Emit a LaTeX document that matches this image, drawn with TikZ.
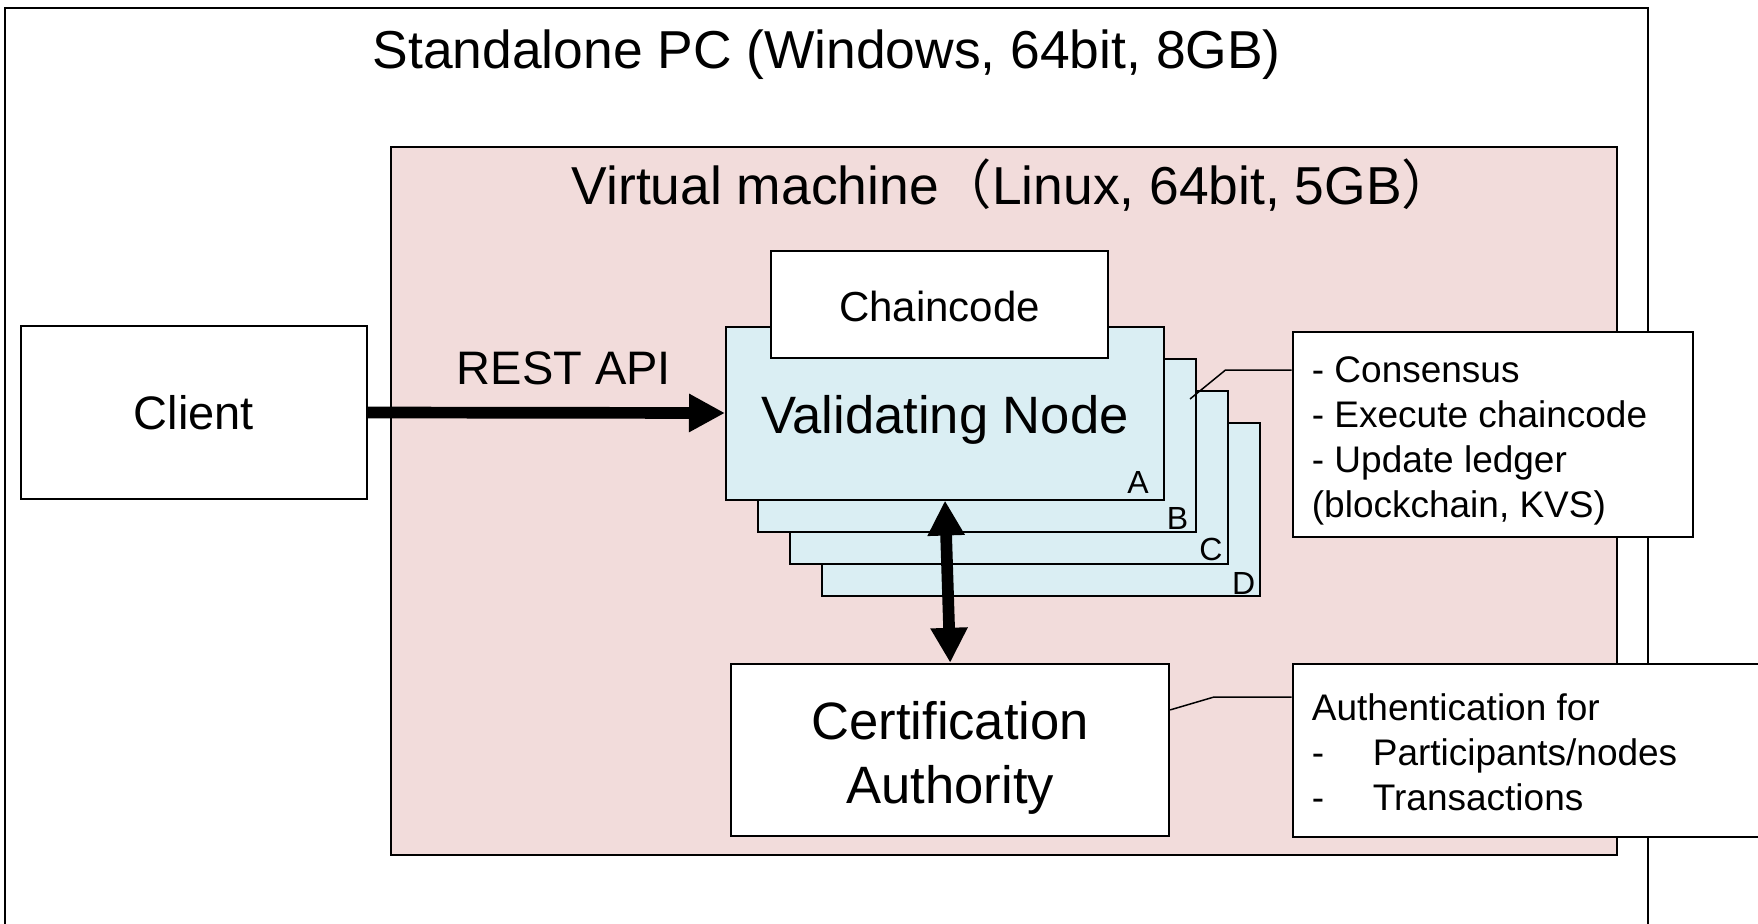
\documentclass[tikz,border=0pt]{standalone}
\usepackage{fontspec}
\setmainfont{Liberation Sans}
\newfontfamily\cjkfont{Noto Sans CJK JP}
\usetikzlibrary{arrows.meta,calc}
\definecolor{vmpink}{RGB}{242,220,219}
\definecolor{vnblue}{RGB}{218,238,243}
\tikzset{
  box/.style={draw=black, line width=1pt, fill=white, inner sep=0pt},
  vnode/.style={box, fill=vnblue, minimum width=219pt, minimum height=86.5pt},
  titletext/.style={font=\fontsize{26.7pt}{32pt}\selectfont, inner sep=0pt},
  bigtext/.style={font=\fontsize{26.3pt}{32pt}\selectfont, inner sep=0pt},
  midtext/.style={font=\fontsize{23.5pt}{28pt}\selectfont},
  chaintext/.style={font=\fontsize{21pt}{25pt}\selectfont, inner sep=0pt},
  notetext/.style={font=\fontsize{18.5pt}{22.5pt}\selectfont, inner sep=0pt, align=left, anchor=west},
  lettertext/.style={font=\fontsize{16pt}{19pt}\selectfont, inner sep=0pt, anchor=south east},
  bigarrow/.style={line width=5.85pt, -{Triangle[length=18pt,width=18pt]}},
  bigdarrow/.style={line width=5.85pt, {Triangle[length=17.5pt,width=17.5pt]}-{Triangle[length=17.5pt,width=17.5pt]}},
  leader/.style={line width=0.75pt}
}
\begin{document}
\begin{tikzpicture}[x=0.5pt,y=-0.5pt]
\clip (0,0) rectangle (1758,923);
\fill[white] (0,0) rectangle (1758,923);
% outer PC
\node[box, minimum width=821.5pt, minimum height=471pt] (pc) at (826.5,479) {};
\node[titletext] (pctitle) at (826.7,55) {Standalone PC (Windows, 64bit, 8GB)};
% virtual machine
\node[box, fill=vmpink, minimum width=613pt, minimum height=354pt] (vm) at (1004,501) {};
\node[titletext] (vmtitle) at (1013.5,185) {Virtual machine{\cjkfont （}Linux, 64bit, 5GB{\cjkfont ）}};
% client
\node[box, minimum width=173pt, minimum height=86.5pt, midtext] (client) at (194,412.5) {Client};
\node[midtext, inner sep=0pt] (rest) at (564,368) {REST API};
% validating nodes
\node[vnode] (D) at (1041,509) {};
\node[lettertext] (labD) at ($(D.south east)+(-5.5,-2)$) {D};
\node[vnode] (C) at (1009,477) {};
\node[lettertext] (labC) at ($(C.south east)+(-6,-3.5)$) {C};
\node[vnode] (B) at (977,445) {};
\node[lettertext] (labB) at ($(B.south east)+(-8.5,-3)$) {B};
\node[vnode] (A) at (945,413) {};
\node[bigtext] (Atext) at (945,420) {Validating Node};
\node[lettertext] (labA) at ($(A.south east)+(-16,-7)$) {A};
\node[box, minimum width=168.5pt, minimum height=53.7pt] (chain) at (939.4,304.4) {};
\node[chaintext] (chaintxt) at (939.4,306.6) {Chaincode};
% certification authority
\node[box, minimum width=219pt, minimum height=86.2pt] (ca) at (950.2,750) {};
\node[bigtext, align=center] (catext) at (950.2,758) {Certification\\Authority};
% callouts
\node[box, minimum width=200.25pt, minimum height=102.25pt] (call1) at (1492.75,434.25) {};
\node[notetext] (call1text) at (1311.5,440.75)
  {- Consensus\\- Execute chaincode\\- Update ledger\\(blockchain, KVS)};
\node[box, minimum width=248.75pt, minimum height=86.5pt] (call2) at (1541.25,750.5) {};
\node[notetext] (call2text) at (1311.5,752.7)
  {Authentication for\\\makebox[30.5pt][l]{-}Participants/nodes\\\makebox[30.5pt][l]{-}Transactions};
% leaders
\coordinate (p1) at (1190,399);
\coordinate (k1) at (1225.5,370);
\draw[leader] (p1) -- (k1) -- (k1 -| call1.west);
\coordinate (p2) at ($(ca.north east)!0.27!(ca.south east)$);
\coordinate (k2) at (1214,697);
\draw[leader] (p2) -- (k2) -- (k2 -| call2.west);
% arrows
\draw[bigarrow] (client.east) -- (A.west);
\draw[bigdarrow] (A.south) -- (ca.north);
\end{tikzpicture}
\end{document}
